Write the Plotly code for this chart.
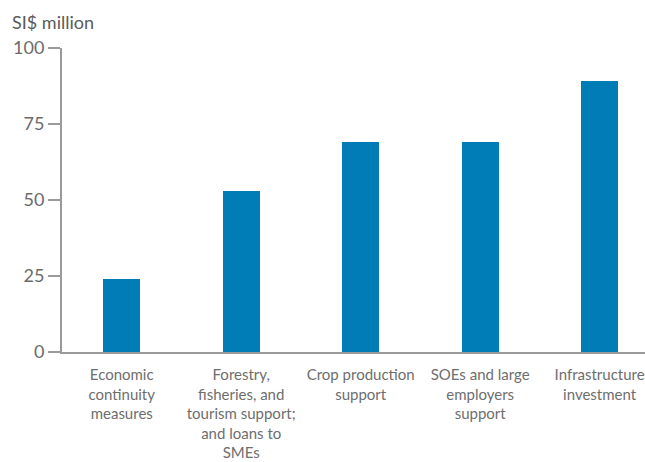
import plotly.graph_objects as go

categories = [
    "Economic<br>continuity<br>measures",
    "Forestry,<br>fisheries, and<br>tourism support;<br>and loans to<br>SMEs",
    "Crop production<br>support",
    "SOEs and large<br>employers<br>support",
    "Infrastructure<br>investment",
]
values = [24, 53, 69, 69, 89]
y_ticks = [0, 25, 50, 75, 100]

fig = go.Figure(go.Bar(
    x=list(range(len(categories))),
    y=values,
    marker=dict(color="#007DB7", line=dict(width=0)),
    width=0.31,
))

fig.update_layout(
    width=645, height=462,
    margin=dict(l=62, r=0, t=48, b=110),
    paper_bgcolor="white", plot_bgcolor="white",
    font=dict(family="Lato, Noto Sans, sans-serif", color="#6b6b6b"),
    showlegend=False,
    bargap=0,
)
fig.update_xaxes(
    range=[-0.5, 4.38],
    tickmode="array",
    tickvals=list(range(len(categories))),
    ticktext=categories,
    tickfont=dict(size=15, color="#6e6e6e"),
    showline=True, linecolor="#9a9a9a", linewidth=2,
    ticks="", showgrid=False, zeroline=False,
    ticklabelstandoff=8,
)
fig.update_yaxes(
    range=[0, 100],
    tickmode="array",
    tickvals=y_ticks,
    tickfont=dict(size=18, color="#6b6b6b"),
    showline=True, linecolor="#9a9a9a", linewidth=2,
    ticks="outside", ticklen=12, tickcolor="#9a9a9a", tickwidth=1.5,
    showgrid=False, zeroline=False,
)
fig.add_annotation(
    text="SI$ million", xref="paper", yref="paper",
    x=-52/583, y=1 + 26/304, xanchor="left", yanchor="middle",
    showarrow=False, font=dict(size=18, color="#5a5a5a"),
)

fig.write_html("out.html", config={"displayModeBar": False},
               post_script="document.body.style.margin='0';")
